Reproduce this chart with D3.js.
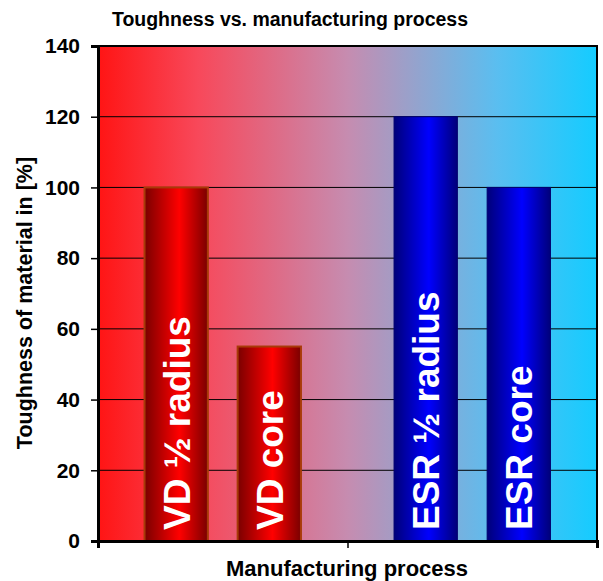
<!DOCTYPE html>
<html>
<head>
<meta charset="utf-8">
<script src="https://cdn.jsdelivr.net/npm/d3@7"></script>
<style>
  body { margin: 0; background: #fff; }
  text { font-family: Arial, "Liberation Sans", sans-serif; font-weight: bold; }
</style>
</head>
<body>
<svg width="603" height="581"></svg>
<script>
// data
var groups = ["VD", "ESR"];
var series = ["½ radius", "core"];
var toughness = [[100, 55], [120, 100]];   // per group, per series
var yTicks = [0, 20, 40, 60, 80, 100, 120, 140];

var svg = d3.select("svg"),
    margin = {top: 46, right: 6, bottom: 40, left: 98},
    width = 603 - margin.left - margin.right,
    height = 581 - margin.top - margin.bottom;

var defs = svg.append("defs");

// background of plot area, red to cyan
var bg = defs.append("linearGradient").attr("id", "bg");
[["0%", "#ff1414"], ["20%", "#f8485a"], ["50%", "#c68cb0"], ["80%", "#5abef0"], ["100%", "#14ccff"]]
  .forEach(function(s) { bg.append("stop").attr("offset", s[0]).attr("stop-color", s[1]); });

// shaded bars
function barGrad(id, dark, light) {
  var g = defs.append("linearGradient").attr("id", id);
  g.append("stop").attr("offset", "0%").attr("stop-color", dark);
  g.append("stop").attr("offset", "55%").attr("stop-color", light);
  g.append("stop").attr("offset", "100%").attr("stop-color", dark);
}
barGrad("redBar", "#7a0000", "#ff0000");
barGrad("blueBar", "#00007a", "#0000ff");
var fills = {VD: "url(#redBar)", ESR: "url(#blueBar)"};
var strokes = {VD: "#a83a08", ESR: "#000070"};

var g = svg.append("g").attr("transform", "translate(" + margin.left + "," + margin.top + ")");

var x0 = d3.scaleBand().domain(groups).range([0, width]).padding(0);
var x1 = d3.scaleBand().domain(series).range([0, x0.bandwidth()])
  .paddingInner(0.32).paddingOuter(0.5);
var y = d3.scaleLinear().domain([0, 140]).range([height, 0]);

g.append("rect").attr("width", width).attr("height", height).attr("fill", "url(#bg)");

// gridlines
g.append("g").selectAll("line").data(yTicks.slice(1, -1)).enter().append("line")
  .attr("x1", 0).attr("x2", width)
  .attr("y1", function(d) { return y(d); }).attr("y2", function(d) { return y(d); })
  .attr("stroke", "#000").attr("stroke-width", 1);

// bars
var bars = [];
groups.forEach(function(gr, i) {
  series.forEach(function(s, j) {
    bars.push({group: gr, series: s, value: toughness[i][j]});
  });
});

var bar = g.append("g").selectAll("g").data(bars).enter().append("g")
  .attr("transform", function(d) { return "translate(" + (x0(d.group) + x1(d.series)) + ",0)"; });

bar.append("rect")
  .attr("x", 0).attr("width", x1.bandwidth())
  .attr("y", function(d) { return y(d.value); })
  .attr("height", function(d) { return height - y(d.value); })
  .attr("fill", function(d) { return fills[d.group]; })
  .attr("stroke", function(d) { return strokes[d.group]; })
  .attr("stroke-width", function(d) { return d.group == "VD" ? 2 : 1; });

bar.append("text")
  .attr("transform", "translate(" + (x1.bandwidth() / 2) + "," + (height - 11) + ") rotate(-90)")
  .attr("dy", "0.36em")
  .attr("fill", "#fff")
  .style("font-size", "37px")
  .text(function(d) { return d.group + " " + d.series; });

// plot border (top/right)
g.append("rect").attr("width", width).attr("height", height)
  .attr("fill", "none").attr("stroke", "#000").attr("stroke-width", 2);

// axes
var yAxis = g.append("g")
  .call(d3.axisLeft(y).tickValues(yTicks).tickSize(7).tickPadding(11));
yAxis.select(".domain").attr("stroke-width", 3);
yAxis.selectAll(".tick line").attr("stroke-width", 1.5);
yAxis.selectAll("text").style("font-size", "21px").attr("fill", "#000");

var xAxis = g.append("g").attr("transform", "translate(0," + height + ")")
  .call(d3.axisBottom(d3.scaleLinear().domain([0, 2]).range([0, width]))
    .tickValues([0, 1, 2]).tickSize(7).tickFormat(""));
xAxis.select(".domain").attr("stroke-width", 3);
xAxis.selectAll(".tick line").attr("stroke-width", 1.5);

// titles
svg.append("text").attr("x", 290).attr("y", 26).attr("text-anchor", "middle")
  .style("font-size", "19.5px").text("Toughness vs. manufacturing process");

svg.append("text").attr("x", 347).attr("y", 576).attr("text-anchor", "middle")
  .style("font-size", "22px").text("Manufacturing process");

svg.append("text").attr("transform", "translate(32,303) rotate(-90)")
  .attr("text-anchor", "middle")
  .style("font-size", "21.5px").text("Toughness of material in [%]");
</script>
</body>
</html>
